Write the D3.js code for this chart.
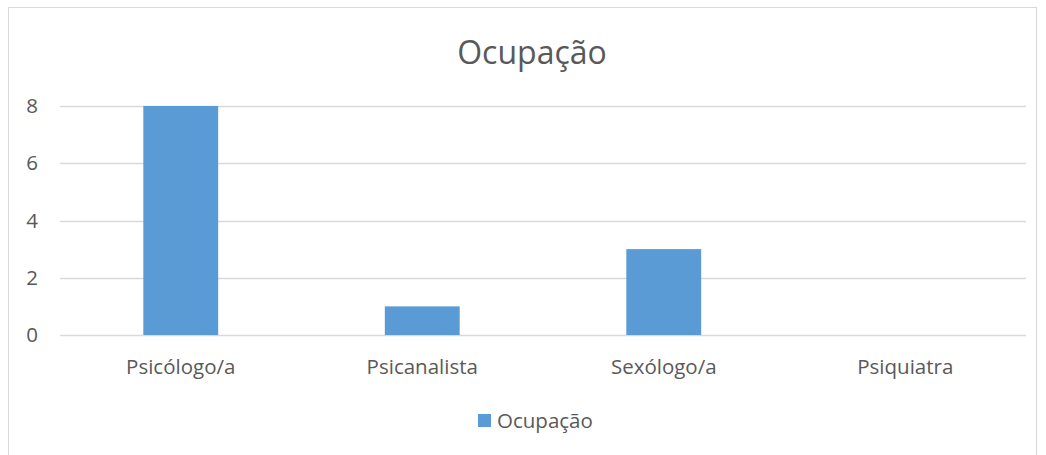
<!DOCTYPE html>
<html>
<head>
<meta charset="utf-8">
<script src="https://cdn.jsdelivr.net/npm/d3@7"></script>
<style>
  body { margin: 0; background: #fff; }
  svg { display: block; font-family: "Open Sans", sans-serif; }
</style>
</head>
<body>
<div id="chart"></div>
<script>
const categories = ['Psicólogo/a', 'Psicanalista', 'Sexólogo/a', 'Psiquiatra']
const values = [8, 1, 3, 0]
const yTicks = [0, 2, 4, 6, 8]
const seriesName = 'Ocupação'

const width = 1046, height = 455

const svg = d3.select('#chart')
    .append('svg')
    .attr('width', width)
    .attr('height', height)

// chart frame
svg.append('rect')
    .attr('x', 8.5).attr('y', 7.5)
    .attr('width', 1028).attr('height', 460)
    .attr('fill', 'none')
    .attr('stroke', '#d9d9d9')

const x = d3.scaleBand()
    .domain(categories)
    .range([60, 1026])
    .paddingInner(0.69)
    .paddingOuter(0.345)

const y = d3.scaleLinear()
    .domain([0, 8])
    .range([335, 106])

// gridlines
svg.append('g')
    .selectAll('line')
    .data(yTicks)
    .join('line')
    .attr('x1', 60).attr('x2', 1026)
    .attr('y1', d => Math.round(y(d)) + 0.5)
    .attr('y2', d => Math.round(y(d)) + 0.5)
    .attr('stroke', '#d9d9d9')
    .attr('stroke-width', 1.3)

// bars
svg.append('g')
    .selectAll('rect')
    .data(values)
    .join('rect')
    .attr('x', (d, i) => x(categories[i]))
    .attr('y', d => y(d))
    .attr('width', x.bandwidth())
    .attr('height', d => y(0) - y(d))
    .attr('fill', '#5b9bd5')

// y axis labels
const yAxis = svg.append('g')
    .attr('transform', 'translate(38,0)')
    .call(d3.axisLeft(y).tickValues(yTicks).tickSize(0).tickPadding(0))
yAxis.select('.domain').remove()
yAxis.selectAll('text')
    .attr('fill', '#595959')
    .style('font-size', '20.5px')
    .attr('font-family', '"Open Sans", sans-serif')

// x axis labels
const xAxis = svg.append('g')
    .attr('transform', 'translate(0,335)')
    .call(d3.axisBottom(x).tickSize(0).tickPadding(24))
xAxis.select('.domain').remove()
xAxis.selectAll('text')
    .attr('fill', '#595959')
    .style('font-size', '20.5px')
    .attr('font-family', '"Open Sans", sans-serif')

// title
svg.append('text')
    .attr('x', 532)
    .attr('y', 64)
    .attr('text-anchor', 'middle')
    .attr('fill', '#595959')
    .style('font-size', '32px')
    .text(seriesName)

// legend
const legend = svg.append('g')
    .attr('transform', 'translate(478,414)')
legend.append('rect')
    .attr('width', 13).attr('height', 13)
    .attr('fill', '#5b9bd5')
legend.append('text')
    .attr('x', 19)
    .attr('y', 14)
    .attr('fill', '#595959')
    .style('font-size', '20.5px')
    .text(seriesName)
</script>
</body>
</html>
